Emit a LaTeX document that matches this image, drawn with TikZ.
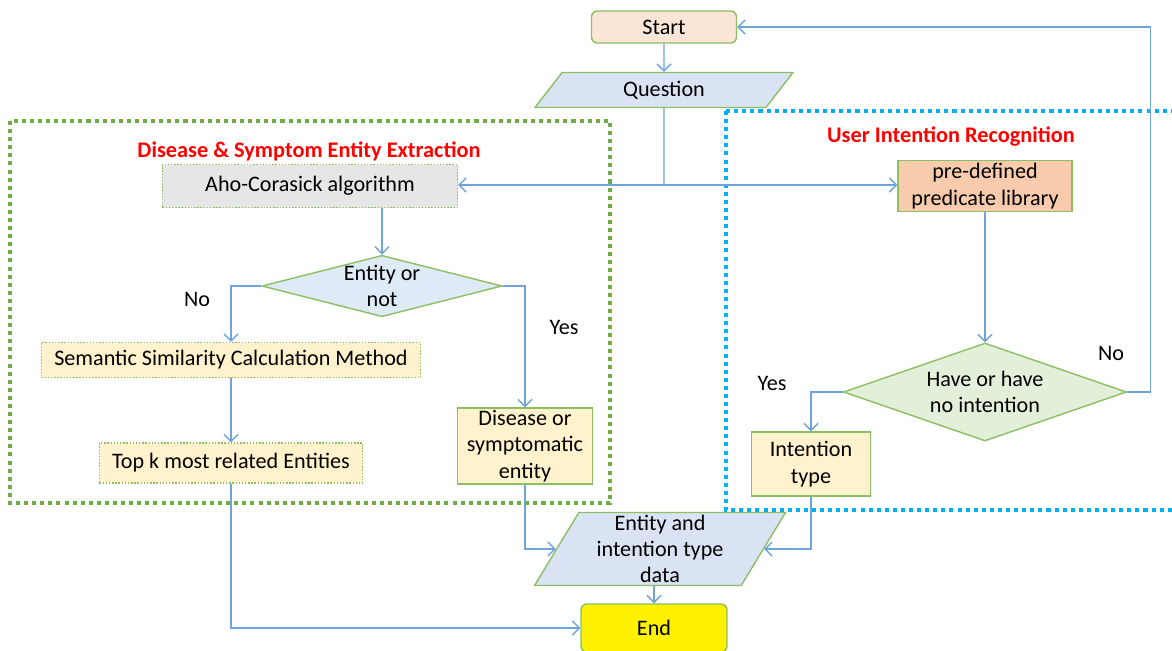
\documentclass[tikz,border=0pt]{standalone}
\usepackage{fontspec}
\setmainfont{Carlito}
\usepackage{tikz}
\usetikzlibrary{shapes.geometric,arrows.meta}
\definecolor{linkblue}{RGB}{112,163,219}
\definecolor{boxgreen}{RGB}{140,190,100}
\definecolor{framegreen}{RGB}{112,173,71}
\definecolor{frameblue}{RGB}{0,176,240}
\definecolor{startfill}{RGB}{251,229,214}
\definecolor{iofill}{RGB}{218,227,243}
\definecolor{grayfill}{RGB}{231,230,230}
\definecolor{decfill}{RGB}{222,235,247}
\definecolor{notefill}{RGB}{255,242,204}
\definecolor{predfill}{RGB}{248,203,173}
\definecolor{decfillb}{RGB}{226,240,217}
\tikzset{
	terminal/.style = {draw=boxgreen, line width=0.8pt, rounded corners=1.2mm,
		minimum width=29mm, minimum height=6.4mm, inner sep=0pt},
	io/.style       = {draw=boxgreen, line width=0.8pt, fill=iofill, trapezium,
		trapezium stretches body, inner sep=0pt, align=center},
	process/.style  = {draw=boxgreen, line width=0.8pt, rectangle, inner sep=0pt, align=center},
	dotbox/.style   = {process, densely dotted},
	decision/.style = {draw=boxgreen, line width=0.8pt, diamond, inner sep=0pt, align=center},
	title/.style    = {text=red, font=\fontsize{12.7}{15}\selectfont\bfseries},
	frame/.style    = {line width=2.3pt, dash pattern=on 2.3pt off 2.3pt},
	link/.style     = {draw=linkblue, line width=0.8pt}
}
\begin{document}
\begin{tikzpicture}[x=0.2mm, y=-0.2mm, >={Straight Barb[length=4pt,width=8pt]},
	font=\fontsize{12.6}{15}\selectfont]
	\useasboundingbox (0,0) rectangle (1172,650);
	% frames
	\draw[frame, framegreen] (10,121) rectangle (610,503);
	\draw[frame, frameblue] (726,111) rectangle (1190,510);
	\draw
	node at (664,27)[terminal, fill=startfill] (start) {Start}
	node at (664,90)[io, trapezium left angle=34, trapezium right angle=146,
		minimum width=51.6mm, minimum height=7mm] (question) {Question}
	node at (309,151)[title] (t1) {Disease \& Symptom Entity Extraction}
	node at (310,186)[dotbox, fill=grayfill, minimum width=59mm, minimum height=8.6mm] (aho) {Aho-Corasick algorithm}
	node at (382,286)[decision, fill=decfill, shape aspect=3.9, minimum width=48mm, minimum height=12.2mm] (d1) {Entity or\\not}
	node at (231,360)[dotbox, fill=notefill, minimum width=75.8mm, minimum height=7mm] (sem) {Semantic Similarity Calculation Method}
	node at (231,463)[dotbox, fill=notefill, minimum width=52.6mm, minimum height=8mm] (topk) {Top k most related Entities}
	node at (525,446)[process, fill=notefill, minimum width=27mm, minimum height=15.2mm] (dis) {Disease or\\symptomatic\\entity}
	node at (951,137)[title] (t2) {User Intention Recognition}
	node at (985,186)[process, fill=predfill, minimum width=34.8mm, minimum height=10.2mm] (pred) {pre-defined\\predicate library}
	node at (985,392)[decision, fill=decfillb, shape aspect=2.9, minimum width=56.6mm, minimum height=19.6mm] (d2) {Have or have\\no intention}
	node at (811,464)[process, fill=notefill, minimum width=23.8mm, minimum height=12.8mm] (itype) {Intention\\type}
	node at (660,549)[io, trapezium left angle=57, trapezium right angle=123,
		minimum width=50.2mm, minimum height=14.6mm] (data) {Entity and\\intention type\\data}
	node at (654,628)[terminal, fill=yellow, minimum width=29.2mm, minimum height=9.6mm] (end) {End};

	\draw node at (197,299) (no1) {No};
	\draw node at (564,327) (yes1) {Yes};
	\draw node at (772,383) (yes2) {Yes};
	\draw node at (1111,353) (no2) {No};

	\coordinate (jq) at (664,185);
	\draw[link,->](start) -- (question);
	\draw[link](question) -- (jq);
	\draw[link,->](jq) -- (jq -| aho.east);
	\draw[link,->](jq) -- (jq -| pred.west);
	\draw[link,->](aho.south -| d1.north) -- (d1.north);
	\draw[link,->](d1.west) -| (sem.north);
	\draw[link,->](sem) -- (topk);
	\draw[link,->](d1.east) -| (dis.north);
	\draw[link,->](dis.south) |- (data);
	\draw[link,->](topk.south) |- (end);
	\draw[link,->](pred) -- (d2);
	\draw[link,->](d2.west) -| (itype.north);
	\draw[link,->](d2.east) -- ++(23,0) |- (start);
	\draw[link,->](itype.south) |- (data);
	\draw[link,->](data.south -| end.north) -- (end.north);
\end{tikzpicture}
\end{document}
